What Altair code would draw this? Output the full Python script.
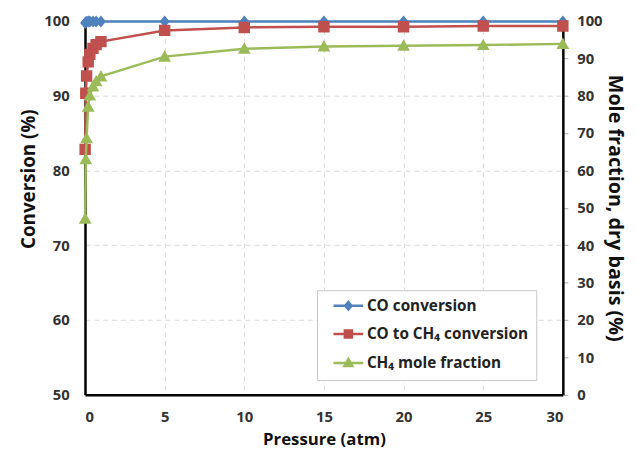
import altair as alt
import pandas as pd

pressure = [0.01, 0.05, 0.1, 0.2, 0.3, 0.5, 0.7, 1, 5, 10, 15, 20, 25, 30]
co_conversion = [99.7, 99.8, 99.85, 99.9, 99.9, 99.9, 99.9, 99.9, 99.9, 99.9, 99.9, 99.9, 99.9, 99.9]
co_to_ch4 = [82.8, 90.3, 92.6, 94.5, 95.5, 96.3, 96.8, 97.2, 98.7, 99.1, 99.2, 99.2, 99.3, 99.3]
ch4_fraction = [47.1, 63.0, 68.6, 77.0, 80.0, 82.4, 83.8, 85.1, 90.4, 92.5, 93.1, 93.3, 93.5, 93.8]

names = ["CO conversion", "CO to CH\u2084 conversion", "CH\u2084 mole fraction"]
colors = ["#4F81BD", "#C0504D", "#9BBB59"]
shapes = [
    "M0,-0.9L0.75,0L0,0.9L-0.75,0Z M-3.6,0H3.6",
    "M-0.85,-0.85H0.85V0.85H-0.85Z M-3.6,0H3.6",
    "M0,-0.95L0.95,0.75H-0.95Z M-3.6,0H3.6",
]

df_left = pd.DataFrame(
    {"pressure": pressure * 2,
     "value": co_conversion + co_to_ch4,
     "series": [names[0]] * len(pressure) + [names[1]] * len(pressure)}
)
df_right = pd.DataFrame(
    {"pressure": pressure, "value": ch4_fraction, "series": [names[2]] * len(pressure)}
)

FONT = "Open Sans"
LABEL_SIZE = 15

x_enc = alt.X(
    "pressure:Q",
    scale=alt.Scale(domain=[0, 30], nice=False),
    axis=alt.Axis(
        title="Pressure (atm)", values=[0, 5, 10, 15, 20, 25, 30], format="d",
        grid=True, gridDash=[5, 4], gridColor="#d9d9d9",
        domainColor="#000", domainWidth=2.5, ticks=False, labelPadding=15,
        labelFont=FONT, labelFontWeight="bold", labelFontSize=LABEL_SIZE, labelColor="#333",
        titleFont=FONT, titleFontWeight="bold", titleFontSize=17, titleColor="#111",
        titlePadding=7,
    ),
)

color_scale = alt.Scale(domain=names, range=colors)
shape_scale = alt.Scale(domain=names, range=shapes)

legend = alt.Legend(
    title=None, orient="none", legendX=235, legendY=273,
    symbolSize=70, symbolStrokeWidth=2.5, symbolOpacity=1, symbolOffset=16,
    labelFont=FONT, labelFontWeight="bold", labelFontSize=15.5, labelColor="#222",
    labelOffset=11, labelLimit=400, rowPadding=10.5, padding=8,
    strokeColor="#c8c8c8", fillColor="white",
)


def layer_for(df, y_enc, series_list):
    layers = []
    for s in series_list:
        c = colors[names.index(s)]
        layers.append(
            alt.Chart(df).transform_filter(alt.datum.series == s)
            .mark_line(strokeWidth=2.5, color=c)
            .encode(x=x_enc, y=y_enc)
        )
    pts = alt.Chart(df).mark_point(filled=True, opacity=1, strokeWidth=0, size=185).encode(
        x=x_enc, y=y_enc,
        fill=alt.Fill("series:N", scale=color_scale, legend=legend),
        stroke=alt.Stroke("series:N", scale=color_scale, legend=legend),
        shape=alt.Shape("series:N", scale=shape_scale, legend=legend),
    )
    layers.append(pts)
    return alt.layer(*layers)


y_left = alt.Y(
    "value:Q",
    scale=alt.Scale(domain=[50, 100], nice=False),
    axis=alt.Axis(
        title="Conversion (%)", orient="left", values=[50, 60, 70, 80, 90, 100],
        grid=True, gridDash=[5, 4], gridColor="#d9d9d9",
        domainColor="#000", domainWidth=2.5, ticks=False, labelPadding=16,
        labelFont=FONT, labelFontWeight="bold", labelFontSize=LABEL_SIZE, labelColor="#333",
        titleFont=FONT, titleFontWeight="bold", titleFontSize=19, titleColor="#111",
        titlePadding=5, titleY=160,
    ),
)
y_right = alt.Y(
    "value:Q",
    scale=alt.Scale(domain=[0, 100], nice=False),
    axis=alt.Axis(
        title="Mole fraction, dry basis (%)", orient="right",
        values=[0, 10, 20, 30, 40, 50, 60, 70, 80, 90, 100],
        grid=False, domainColor="#000", domainWidth=2.5,
        ticks=True, tickColor="#aaa", tickSize=5, labelPadding=9,
        labelFont=FONT, labelFontWeight="bold", labelFontSize=LABEL_SIZE, labelColor="#333",
        titleFont=FONT, titleFontWeight="bold", titleFontSize=20, titleColor="#111",
        titlePadding=3,
    ),
)

chart = alt.layer(
    layer_for(df_left, y_left, names[:2]),
    layer_for(df_right, y_right, names[2:]),
).resolve_scale(y="independent").properties(
    width=629, height=442,
    autosize=alt.AutoSizeParams(type="fit", contains="padding"),
    padding={"left": 12, "top": 3, "right": 4, "bottom": 0},
).configure_view(stroke=None).configure(background="white")

chart.save("out.html", embed_options={"renderer": "svg", "actions": False})
